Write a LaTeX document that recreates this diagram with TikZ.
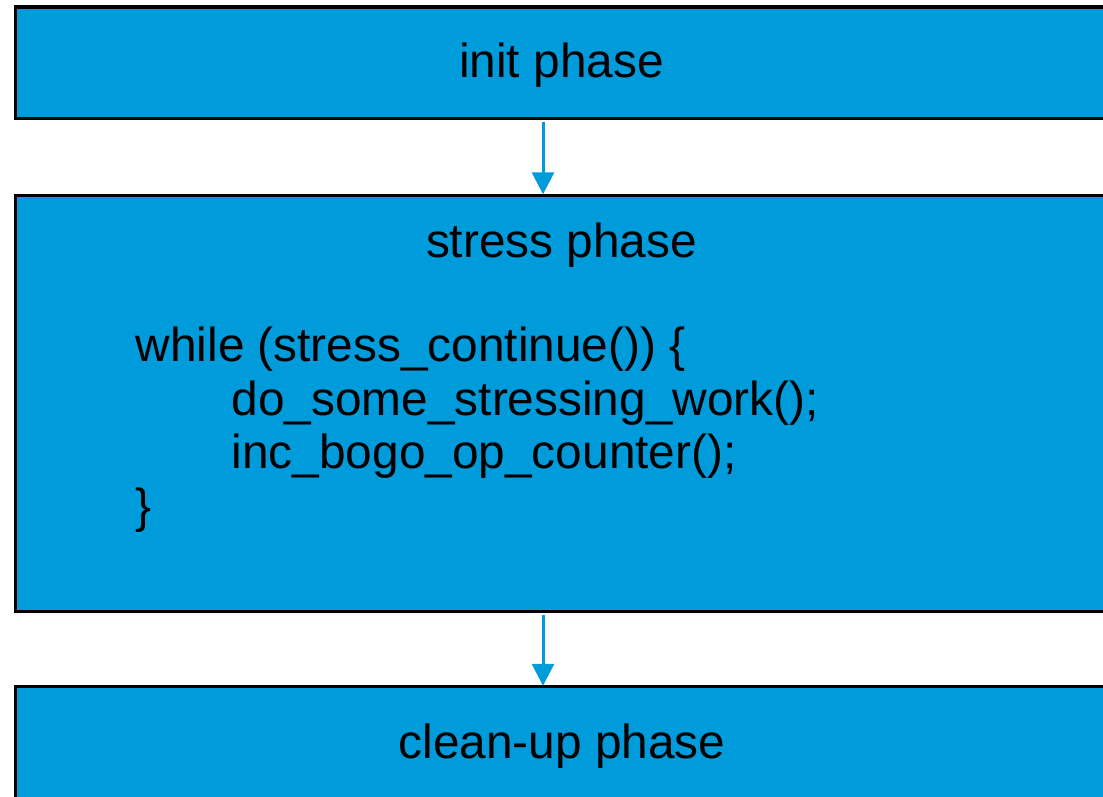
\documentclass[tikz,border=0pt]{standalone}
\usepackage{fontspec}
\setmainfont{Liberation Sans}
\usetikzlibrary{arrows.meta}
\definecolor{phaseblue}{RGB}{0,155,219}
\tikzset{
  phase/.style={draw=black, line width=3.2pt, fill=phaseblue, inner sep=0pt,
    minimum width=1095pt, anchor=north west},
  txt/.style={inner sep=0pt, font=\fontsize{47.8}{57}\selectfont, text=black},
  flow/.style={draw=phaseblue, line width=3pt,
    -{Triangle[length=22pt, width=22pt]}},
}
\begin{document}
\begin{tikzpicture}[x=1pt, y=-1pt]
  \useasboundingbox (0,0) rectangle (1103,797);
  % phase boxes
  \node[phase, minimum height=111.5pt] (init) at (13.5,5.5) {};
  \node[phase, minimum height=416.5pt] (stress) at (13.5,193.5) {};
  \node[phase, minimum height=215pt] (cleanup) at (13.5,685) {};
  % titles
  \node[txt, anchor=base] (tinit) at (561.5,77.5) {init phase};
  \node[txt, anchor=base] (tstress) at (561.5,257) {stress phase};
  \node[txt, anchor=base] (tclean) at (562,758) {clean-up phase};
  % loop body
  \node[txt, anchor=base west] (l1) at (135.5,361) {while (stress\_continue()) \{};
  \node[txt, anchor=base west] (l2) at (231.5,415) {do\_some\_stressing\_work();};
  \node[txt, anchor=base west] (l3) at (231.5,468) {inc\_bogo\_op\_counter();};
  \node[txt, anchor=base west] (l4) at (135.5,522) {\}};
  % connectors
  \coordinate (ax) at (543,0);
  \draw[flow] (init.south -| ax) ++(0,1.6) -- ([yshift=-0.8pt]stress.north -| ax);
  \draw[flow] (stress.south -| ax) ++(0,1.6) -- ([yshift=-0.8pt]cleanup.north -| ax);
\end{tikzpicture}
\end{document}
